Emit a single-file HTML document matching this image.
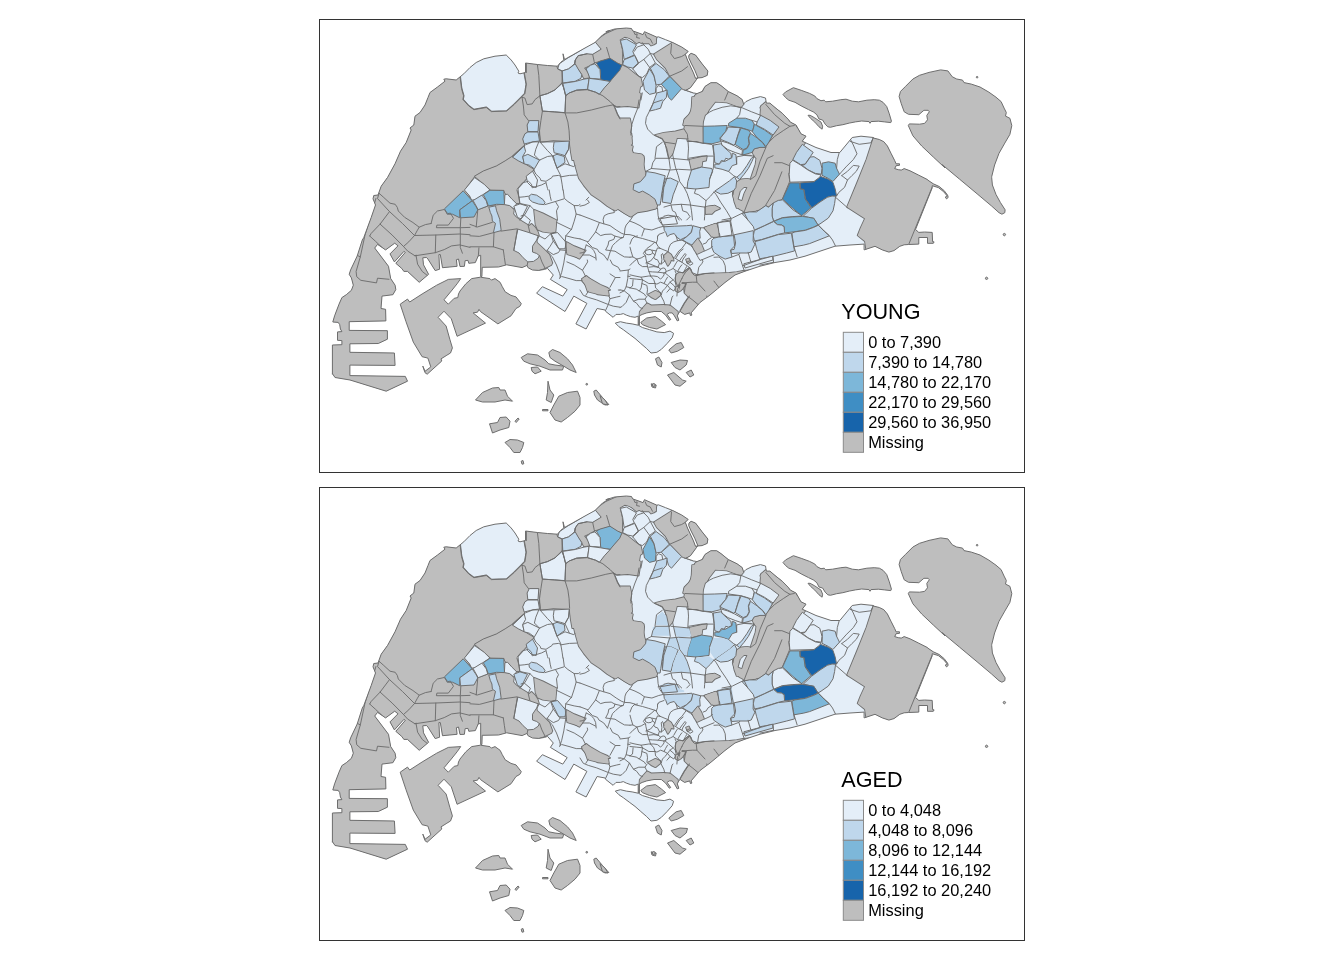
<!DOCTYPE html>
<html><head><meta charset="utf-8"><title>Singapore choropleth</title>
<style>
html,body{margin:0;padding:0;background:#fff;}
body{width:1344px;height:960px;overflow:hidden;position:relative;font-family:"Liberation Sans",sans-serif;}
svg{position:absolute;left:0;top:0;}
text{font-family:"Liberation Sans",sans-serif;fill:#000;}
</style></head><body>
<svg width="1344" height="960" viewBox="0 0 1344 960">
<defs>

<path id="isl" d="M386.2 391.2 L370.0 386.2 L350.0 380.0 L335.0 377.5 L332.5 373.8 L332.4 374.2 L332.4 345.0 L341.9 344.7 L341.9 340.6 L337.5 340.3 L337.5 331.9 L341.9 331.6 L340.4 329.0 L339.7 324.6 L338.2 322.4 L332.8 322.0 L334.6 315.8 L339.0 304.2 L341.9 297.6 L346.3 294.7 L351.4 290.3 L353.3 285.2 L351.4 277.9 L349.2 274.3 L350.6 269.9 L357.2 256.0 L362.3 240.0 L363.8 237.5 L371.2 217.5 L375.5 205.0 L373.0 198.8 L373.8 195.5 L378.0 195.0 L381.2 186.2 L387.5 177.5 L395.0 163.8 L400.5 151.2 L406.2 142.5 L411.2 130.0 L410.0 128.0 L413.8 125.0 L415.0 116.2 L420.0 112.5 L425.0 105.0 L428.0 97.5 L430.0 92.5 L437.5 87.0 L445.0 81.2 L443.8 79.2 L446.2 78.8 L456.2 80.0 L463.8 73.8 L470.0 67.5 L476.2 62.5 L483.8 58.8 L495.0 56.2 L506.2 55.0 L511.2 60.0 L515.0 65.0 L518.8 71.2 L518.0 73.0 L520.0 73.8 L525.5 72.5 L525.5 63.0 L537.5 64.5 L547.5 65.5 L557.5 66.2 L560.5 62.5 L563.8 60.0 L563.0 53.8 L564.5 59.5 L572.5 55.0 L585.0 48.0 L595.0 42.5 L602.5 35.0 L610.0 30.5 L605.8 31.7 L614.6 29.0 L626.3 28.0 L631.4 28.5 L632.8 30.9 L643.0 34.6 L644.5 31.7 L656.9 37.2 L658.3 36.8 L665.6 39.7 L672.9 42.6 L681.7 47.0 L688.2 51.4 L685.3 54.3 L687.5 60.1 L693.3 72.5 L695.5 78.3 L698.0 78.0 L694.8 70.3 L691.1 63.0 L688.7 57.6 L689.0 55.0 L691.1 53.3 L695.5 55.0 L702.1 63.8 L707.9 71.0 L707.2 75.4 L702.1 77.6 L697.4 78.0 L696.3 79.8 L690.4 87.8 L686.0 90.3 L693.3 92.9 L697.0 93.6 L702.1 91.5 L705.0 86.4 L710.8 82.7 L716.7 82.7 L721.0 85.6 L728.3 91.5 L737.1 95.8 L742.2 99.5 L743.6 103.9 L745.8 101.7 L751.7 98.8 L760.4 96.6 L765.5 98.0 L766.3 103.1 L769.9 103.1 L775.0 107.5 L782.3 113.3 L788.1 119.2 L790.3 122.1 L796.0 125.0 L801.0 133.8 L806.0 136.2 L802.2 141.2 L816.0 147.5 L831.0 152.5 L839.8 152.5 L846.0 145.0 L852.2 137.5 L861.0 136.2 L873.5 137.5 L873.3 138.0 L879.4 139.5 L883.8 141.7 L887.4 146.0 L891.0 153.3 L894.7 160.6 L896.1 163.8 L899.5 163.8 L899.5 165.3 L896.1 165.7 L894.7 168.6 L898.3 169.7 L901.3 170.1 L904.2 168.6 L910.0 170.8 L918.8 175.2 L927.5 179.6 L927.5 179.9 L933.3 183.8 L939.2 186.5 L944.3 190.8 L947.6 195.2 L948.2 197.4 L946.5 198.9 L945.3 197.0 L947.2 195.9 L943.5 191.6 L938.4 187.6 L932.2 185.7 L932.2 187.9 L915.5 229.5 L918.8 232.4 L924.6 232.0 L932.2 232.4 L932.6 241.6 L934.1 241.9 L933.3 243.3 L927.5 243.3 L927.5 237.5 L918.8 237.5 L918.8 244.1 L908.5 244.5 L904.2 244.8 L899.8 246.3 L894.0 250.6 L888.9 252.1 L882.3 249.9 L875.0 246.3 L864.1 249.9 L864.1 244.1 L850.0 245.0 L835.0 246.2 L820.0 251.2 L805.0 256.2 L790.0 260.0 L775.0 262.5 L760.0 266.2 L745.0 271.2 L735.0 275.0 L725.0 282.5 L717.5 288.8 L710.0 295.0 L700.0 302.5 L691.1 312.9 L691.9 315.1 L690.4 315.5 L689.7 312.9 L684.6 314.4 L680.2 311.5 L678.8 312.9 L677.3 315.8 L678.8 320.2 L677.3 320.9 L674.4 315.8 L672.2 312.9 L669.3 312.9 L667.1 314.4 L670.7 319.5 L669.3 320.2 L665.6 315.1 L661.3 311.5 L654.0 311.5 L646.7 312.9 L642.3 314.4 L639.4 315.8 L639.4 325.3 L638.2 325.3 L638.2 316.1 L635.0 317.3 L630.6 316.6 L626.3 315.1 L623.3 313.6 L620.4 314.4 L616.0 314.4 L613.1 317.3 L605.8 311.5 L605.1 310.0 L597.1 308.5 L586.1 329.0 L575.9 323.9 L586.9 303.4 L573.8 296.1 L565.0 311.5 L536.6 293.2 L542.4 286.7 L562.8 296.1 L567.2 289.6 L550.4 279.4 L553.3 275.0 L547.5 268.4 L544.6 269.4 L538.8 270.4 L532.5 270.0 L528.3 267.9 L526.8 265.5 L522.1 267.6 L506.7 264.8 L498.6 267.0 L482.2 267.3 L481.9 276.5 L480.7 276.5 L480.7 255.3 L478.2 256.0 L475.3 262.6 L468.8 263.3 L468.0 260.4 L465.1 260.7 L464.4 266.3 L460.0 266.5 L458.5 259.0 L456.4 259.7 L457.1 266.3 L442.5 267.7 L440.3 254.6 L438.9 254.6 L439.6 269.2 L435.2 270.6 L427.9 259.0 L426.5 257.5 L422.8 257.8 L423.5 264.8 L428.6 274.3 L419.2 282.3 L407.5 271.4 L403.9 271.4 L401.7 268.4 L395.8 263.3 L405.3 252.4 L403.9 251.4 L394.4 261.9 L390.0 253.9 L398.0 245.8 L394.7 243.2 L385.6 249.9 L377.6 244.4 L374.7 248.0 L388.5 266.3 L390.7 278.6 L395.1 285.2 L395.8 289.6 L392.9 294.7 L382.0 296.1 L381.0 308.5 L385.6 309.3 L385.9 320.9 L349.2 321.7 L349.2 330.4 L387.4 330.7 L387.4 339.2 L378.3 343.5 L349.9 343.8 L349.9 352.3 L394.4 353.0 L395.1 365.4 L349.9 365.1 L349.9 375.6 L405.3 376.4 L407.5 381.2Z"/>
<clipPath id="cl"><use href="#isl"/></clipPath>
<g id="greys" fill="#bebebe">
<path d="M460.0 76.1 L461.5 88.5 L463.6 95.8 L462.9 99.5 L468.8 106.0 L473.9 109.7 L486.3 107.5 L491.4 111.6 L506.7 111.1 L514.0 104.6 L521.3 97.3 L524.9 93.6 L526.4 84.2 L524.2 72.2 L524.2 56.5 L562.1 56.5 L562.1 82.7 L554.8 90.0 L547.5 93.6 L539.9 95.8 L542.4 111.1 L565.0 112.6 L565.7 95.8 L569.4 92.9 L576.7 90.3 L587.6 89.7 L595.6 92.2 L602.9 95.8 L610.2 101.7 L613.1 104.6 L614.6 107.5 L617.5 114.8 L621.9 122.1 L626.3 129.4 L631.4 133.8 L632.1 144.0 L629.9 145.4 L633.5 154.2 L631.4 155.6 L632.8 160.0 L572.3 160.0 L570.8 151.3 L569.7 141.0 L553.3 140.3 L540.9 141.8 L539.5 130.8 L538.8 120.6 L529.3 120.6 L527.1 125.0 L527.8 131.6 L524.9 133.8 L522.7 138.9 L524.2 144.0 L524.2 145.5 L518.3 150.6 L511.8 156.5 L505.2 160.8 L496.5 165.9 L483.3 171.0 L474.6 176.1 L464.4 190.0 L22.5 251.3 L22.5 76.2Z"/>
<path d="M594.9 41.6 L605.8 33.9 L617.5 28.8 L629.2 25.8 L656.0 28.8 L656.0 43.3 L641.6 43.3 L639.4 41.9 L627.7 37.5 L624.8 36.8 L619.7 39.7 L621.9 49.2 L622.2 64.5 L617.5 63.0 L609.9 58.2 L600.0 61.1 L594.9 62.3 L589.8 65.2 L584.0 68.1 L588.3 73.2 L589.1 77.6 L584.0 78.3 L581.8 74.0 L578.1 68.9 L575.2 63.8 L576.7 56.5 L586.9 53.8 L592.7 54.6 L601.2 49.2Z"/>
<path d="M621.9 65.2 L627.7 68.1 L635.0 74.0 L640.8 78.3 L642.3 85.6 L640.1 87.1 L639.1 92.9 L640.8 93.6 L638.6 107.5 L627.7 106.0 L616.8 106.8 L613.1 104.6 L610.2 101.7 L602.9 95.8 L599.3 94.4 L604.4 87.8 L610.2 81.5 L614.6 76.1 L619.7 70.3Z"/>
<path d="M474.6 176.1 L483.3 171.0 L496.5 165.9 L505.2 160.8 L511.8 156.5 L524.2 163.8 L533.6 169.6 L528.5 176.1 L522.7 182.7 L517.6 188.5 L518.3 195.8 L519.1 202.4 L516.1 209.0 L513.2 203.1 L505.2 192.9 L503.8 190.0 L490.6 189.7 L484.1 184.2Z"/>
<path d="M22.5 178.3 L460.0 178.3 L468.8 195.8 L473.9 207.5 L478.2 210.1 L488.4 206.3 L495.0 205.3 L495.5 205.6 L504.4 204.6 L509.6 205.6 L513.8 209.8 L513.2 214.0 L515.8 217.1 L520.0 220.2 L529.4 225.9 L531.5 223.9 L535.1 227.5 L537.7 231.7 L538.8 235.3 L536.7 240.0 L536.7 242.6 L542.9 248.3 L549.2 254.6 L552.3 262.9 L551.2 265.0 L545.0 268.1 L525.0 275.0 L525.0 502.5 L22.5 557.5Z"/>
<path d="M568.6 118.5 L569.4 131.7 L570.8 146.3 L575.2 165.2 L578.9 178.3 L584.0 185.6 L591.3 194.4 L600.0 200.2 L607.3 206.0 L614.6 210.4 L618.2 209.0 L624.8 213.3 L629.9 216.3 L639.4 210.4 L649.6 206.0 L656.0 205.3 L656.0 199.5 L649.6 192.9 L642.3 191.5 L636.5 192.9 L632.8 187.1 L634.3 181.3 L642.3 179.8 L640.8 176.9 L645.9 173.2 L643.5 168.9 L643.8 156.5 L641.6 154.3 L631.4 152.8 L632.8 146.3 L629.2 144.8 L631.4 140.4 L629.9 134.6 L631.4 125.8 L629.9 118.5Z"/>
<path d="M534.1 209.8 L542.9 213.4 L556.5 220.2 L555.4 232.2 L550.2 232.7 L542.9 231.7 L537.7 229.6 L535.6 224.4Z"/>
<path d="M566.4 242.1 L574.2 246.2 L583.5 249.9 L585.6 250.4 L579.4 258.8 L573.1 255.1 L566.9 252.5Z"/>
<path d="M582.0 280.6 L585.6 276.5 L592.9 280.6 L600.2 284.8 L607.5 287.9 L610.0 290.0 L589.8 290.0Z"/>
<path d="M617.1 121.9 L624.4 123.3 L628.0 129.2 L631.7 136.5 L630.2 137.9 L630.9 146.7 L629.5 150.3 L632.4 154.0 L640.4 154.7 L644.1 158.3 L643.3 164.2 L644.8 171.5 L645.5 175.8 L640.4 181.7 L633.9 183.9 L633.1 189.7 L639.0 192.6 L642.6 191.1 L649.2 194.8 L655.0 199.2 L657.2 205.0 L655.7 208.6 L647.0 210.8 L637.5 212.3 L630.9 216.7 L624.8 213.3 L617.1 207.9Z"/>
<path d="M684.2 120.4 L688.5 116.0 L691.5 110.2 L692.2 97.1 L713.3 97.1 L709.0 108.8 L707.5 113.1 L702.4 116.8 L702.8 125.5 L703.1 143.0 L695.8 140.8 L687.8 138.6 L676.9 137.9 L675.4 143.8 L672.5 154.0 L668.9 158.3 L665.2 142.3 L662.3 138.6 L655.0 135.0 L663.8 132.8 L675.4 131.4 L684.2 129.2 L684.9 125.5Z"/>
<path d="M689.3 159.8 L701.7 156.9 L706.8 156.1 L706.0 160.5 L702.4 161.3 L701.7 166.4 L691.5 169.3Z"/>
<path d="M760.7 115.3 L763.6 104.4 L770.2 104.4 L780.4 113.1 L789.9 121.9 L794.3 125.5 L799.4 129.2 L797.2 135.7 L805.2 135.7 L806.7 140.8 L803.8 144.5 L799.4 149.6 L795.0 155.4 L792.1 160.5 L789.2 165.6 L789.2 172.9 L781.9 171.5 L774.6 162.7 L773.1 155.4 L768.8 151.0 L765.8 147.4 L768.8 142.3 L772.8 135.7 L779.0 127.0 L770.2 120.4Z"/>
<path d="M754.2 149.3 L760.0 147.7 L765.8 147.7 L768.8 151.3 L773.1 155.7 L774.6 163.0 L781.9 171.8 L777.5 181.7 L773.1 193.3 L768.8 206.5 L765.8 205.0 L760.0 209.4 L751.3 211.6 L744.0 212.3 L742.5 208.6 L736.7 207.9 L734.5 202.1 L733.0 194.8 L735.2 186.0 L737.4 181.7 L741.0 179.5 L746.9 178.8 L750.5 179.5 L752.7 172.9 L755.6 164.2 L756.4 158.3 L754.2 156.1 L752.7 152.5Z"/>
<path d="M705.3 207.2 L714.8 205.7 L719.9 208.6 L714.8 210.8 L711.9 213.8 L705.8 213.0Z"/>
<path d="M704.6 227.6 L714.8 224.0 L717.0 228.3 L720.6 236.4 L713.3 237.1 L707.5 231.3Z"/>
<path d="M768.8 145.0 L774.6 134.8 L781.9 129.0 L793.5 125.3 L798.6 130.4 L800.8 133.3 L809.6 136.3 L807.4 139.2 L802.3 143.5 L796.5 152.3 L792.8 159.6 L790.6 161.8 L789.2 165.4 L788.4 174.2 L789.2 181.5 L781.9 199.0 L768.8 206.3 L765.8 204.8 L760.0 205.5 L757.1 158.1Z"/>
<path d="M875.5 131.9 L866.5 159.6 L857.1 182.9 L847.1 207.0 L865.0 218.6 L860.6 228.1 L857.7 235.4 L865.0 241.3 L867.2 255.8 L949.6 255.8 L949.6 168.3 L905.8 131.9Z"/>
<path d="M654.0 54.3 L671.5 43.3 L672.9 40.4 L681.7 43.3 L690.4 49.2 L685.3 54.3 L687.5 60.1 L693.3 72.5 L696.3 78.3 L697.0 79.8 L690.4 87.8 L685.3 90.0 L681.7 88.5 L670.0 76.1 L665.6 68.1 L656.9 59.4Z"/>
<path d="M687.5 55.0 L691.1 53.3 L695.5 55.0 L702.1 63.8 L707.9 71.0 L708.6 76.1 L702.1 78.3 L696.3 78.3 L693.3 70.3 L689.7 63.0 L687.2 57.9Z"/>
<path d="M626.3 25.8 L631.4 25.8 L632.8 30.9 L643.0 34.6 L640.8 41.1 L636.5 43.3 L631.4 39.0 L624.8 34.6Z"/>
<path d="M643.0 34.6 L644.5 30.2 L656.9 36.0 L654.7 44.1 L651.0 45.5 L648.1 41.9 L641.6 41.9Z"/>
<path d="M761.1 106.0 L766.3 101.7 L769.9 101.7 L775.0 106.0 L782.3 111.9 L788.1 117.7 L792.5 122.8 L785.2 127.9 L779.4 130.8 L773.5 125.0 L766.3 119.2 L760.4 114.8Z"/>
<path d="M702.8 91.5 L705.0 86.4 L710.8 82.7 L716.7 82.7 L721.0 85.6 L728.3 91.5 L737.1 95.8 L742.2 99.5 L743.6 103.9 L740.7 107.5 L726.9 102.4 L715.2 101.7 L710.8 107.5 L705.0 114.8 L702.1 125.0 L702.8 141.0 L687.5 141.0 L686.0 126.5 L683.1 125.0 L684.6 119.2 L690.4 113.3 L692.6 104.6 L694.8 95.8 L699.2 92.2Z"/>
<path d="M760.4 107.5 L766.3 103.1 L769.9 103.1 L775.0 107.5 L782.3 113.3 L788.1 119.2 L790.3 122.1 L796.0 125.0 L796.0 130.8 L785.2 127.9 L779.4 130.8 L773.5 126.5 L766.3 119.2 L761.9 113.3Z"/>
<path d="M589.2 188.5 L596.5 195.8 L603.8 200.9 L610.3 206.0 L615.4 210.4 L618.3 208.2 L624.2 211.9 L631.5 216.3 L634.4 211.9 L640.2 209.7 L647.5 209.0 L656.3 208.2 L657.7 203.1 L653.3 197.3 L647.5 192.9 L643.1 188.5Z"/>
<path d="M733.5 188.5 L756.0 188.5 L756.0 210.4 L745.2 211.9 L739.4 209.0 L735.0 201.7 L732.8 194.4Z"/>
<path d="M705.8 206.8 L714.6 205.8 L719.7 208.2 L714.6 210.4 L711.7 213.3 L705.8 214.1Z"/>
<path d="M566.6 242.5 L574.6 247.6 L583.3 250.5 L579.0 257.8 L567.3 254.2Z"/>
<path d="M581.9 279.0 L586.3 276.0 L595.0 283.3 L603.8 287.7 L608.1 290.6 L608.9 295.7 L597.9 294.3 L595.7 293.5 L587.7 291.4 L584.8 283.3Z"/>
<path d="M676.2 274.7 L679.4 272.6 L683.5 273.1 L686.7 270.0 L689.3 268.4 L691.9 273.1 L697.1 275.2 L703.3 274.2 L711.7 273.6 L719.0 273.3 L729.4 272.9 L736.7 272.1 L742.9 271.0 L755.4 270.0 L755.4 345.0 L676.2 345.0 L680.4 310.6 L684.6 303.3 L688.8 297.1 L684.6 292.9 L684.1 288.8 L686.7 283.5 L682.5 282.0 L680.9 285.1 L679.4 284.1 L676.8 286.7 L675.7 282.5Z"/>
<path d="M680.4 284.1 L683.5 283.8 L685.1 284.6 L682.5 288.8 L680.4 290.8 L678.3 291.9 L679.9 287.7Z"/>
<path d="M675.7 287.2 L678.3 286.7 L679.4 288.8 L677.8 291.9 L675.7 290.8Z"/>
<path d="M642.4 308.5 L647.1 303.3 L651.2 305.4 L663.8 304.9 L670.0 305.4 L675.2 309.6 L677.8 311.7 L678.3 324.2 L638.8 324.2 L639.8 311.7Z"/>
<path d="M648.1 294.5 L655.4 290.8 L660.1 292.9 L660.6 295.0 L655.4 299.2 L651.2 297.1Z"/>
<path d="M663.8 255.9 L667.9 252.3 L671.0 254.4 L673.1 258.5 L673.6 260.6 L671.0 260.1 L670.0 262.7 L667.9 265.8 L665.8 261.7 L664.3 259.6Z"/>
<path d="M691.9 245.0 L697.6 238.2 L701.2 244.0 L703.9 250.7 L697.1 253.9 L694.0 249.2Z"/>
<path d="M704.4 227.8 L716.4 223.6 L719.5 233.5 L711.7 236.7 L708.5 232.5Z"/>
<path d="M686.1 259.6 L688.8 258.5 L690.3 261.7 L687.7 263.2Z"/>
</g>
<path id="z0" d="M464.4 190.0 L474.6 177.6 L484.1 184.2 L489.9 190.0 L483.3 194.4 L476.0 199.5 L471.7 200.2 L469.5 195.8Z"/>
<path id="z1" d="M444.5 208.8 L463.2 190.8 L472.2 200.8 L459.8 209.8 L459.8 217.8 L452.5 214.2 L447.2 214.2Z"/>
<path id="z2" d="M459.8 209.8 L472.2 200.8 L475.8 206.2 L477.8 209.8 L474.0 217.0 L460.5 217.8Z"/>
<path id="z3" d="M473.1 200.5 L481.9 195.1 L486.3 200.9 L487.7 206.0 L478.2 209.7Z"/>
<path id="z4" d="M483.3 194.7 L489.9 190.3 L503.8 190.4 L504.5 204.6 L496.5 204.3 L488.4 206.0 L486.3 200.2Z"/>
<path id="z5" d="M504.9 194.7 L507.5 194.2 L511.7 198.9 L516.4 203.5 L514.3 209.3 L509.6 205.6 L504.4 204.6Z"/>
<path id="z6" d="M488.8 207.2 L495.5 205.8 L496.6 210.8 L499.7 219.2 L501.2 230.6 L493.4 232.7 L495.5 223.3 L492.4 221.2 L491.9 216.0 L490.3 212.4Z"/>
<path id="z7" d="M528.9 196.2 L531.5 194.2 L536.7 195.2 L542.9 199.4 L545.0 202.5 L544.0 204.6 L538.8 204.1 L532.5 202.0 L529.4 199.4Z"/>
<path id="z8" d="M529.3 120.6 L538.8 120.6 L538.0 131.6 L527.8 131.6 L527.1 125.0Z"/>
<path id="z9" d="M527.8 132.0 L538.0 132.0 L539.5 141.0 L532.9 141.8 L524.2 144.0 L522.7 138.9 L524.9 133.8Z"/>
<path id="z10" d="M539.9 95.8 L547.5 93.6 L554.8 90.0 L562.1 83.4 L564.3 90.0 L565.7 95.8 L565.0 112.6 L554.8 111.9 L542.4 111.1Z"/>
<path id="z11" d="M557.7 68.9 L559.2 63.8 L567.9 57.9 L576.7 52.8 L586.9 46.3 L594.9 41.6 L601.2 49.2 L592.7 54.3 L586.9 53.8 L578.1 55.7 L575.2 60.1 L574.5 63.8 L568.6 68.9 L562.1 71.0Z"/>
<path id="z12" d="M596.4 63.0 L600.0 61.1 L609.9 58.2 L617.5 63.0 L621.9 65.2 L619.7 70.3 L614.6 76.1 L610.2 81.3 L600.7 80.1 L600.0 69.6Z"/>
<path id="z13" d="M586.1 68.9 L590.5 65.2 L594.9 63.8 L600.0 69.6 L600.7 79.1 L589.8 78.3 L588.3 74.0Z"/>
<path id="z14" d="M562.1 71.0 L568.6 68.9 L575.2 63.8 L578.1 68.9 L581.8 74.7 L581.0 78.3 L575.2 81.3 L562.8 83.0Z"/>
<path id="z15" d="M562.8 83.4 L575.2 81.5 L584.0 79.1 L589.1 78.3 L587.6 89.3 L576.7 90.0 L569.4 92.9 L565.7 95.5 L564.3 90.0Z"/>
<path id="z16" d="M589.1 78.3 L600.7 79.8 L610.2 81.5 L604.4 87.8 L599.3 94.4 L595.6 92.2 L587.6 89.7Z"/>
<path id="z17" d="M620.4 40.4 L626.3 39.0 L636.5 44.8 L632.8 51.4 L634.3 55.0 L624.1 59.4 L622.6 49.2Z"/>
<path id="z18" d="M624.1 59.7 L634.7 55.4 L638.2 63.0 L632.8 68.1 L627.7 67.0 L622.6 64.5Z"/>
<path id="z19" d="M512.5 157.2 L524.2 146.0 L525.6 151.4 L522.7 156.5 L524.2 163.8 L518.3 160.8Z"/>
<path id="z20" d="M522.7 156.5 L527.8 154.3 L539.5 160.1 L534.4 168.9 L529.3 165.2 L524.2 163.8Z"/>
<path id="z21" d="M554.1 141.9 L569.4 141.1 L568.6 149.2 L565.0 155.7 L560.6 154.3 L554.1 152.8 L553.3 147.7Z"/>
<path id="z22" d="M553.3 155.7 L557.0 154.3 L564.3 156.5 L565.0 162.3 L557.0 168.1 L554.8 162.3Z"/>
<path id="z23" d="M633.9 183.9 L640.4 181.7 L645.5 175.8 L646.3 171.5 L655.0 172.9 L665.2 175.8 L663.8 181.7 L662.3 190.4 L660.8 200.6 L660.1 205.0 L657.2 205.0 L655.0 199.2 L649.2 194.8 L642.6 191.1 L639.0 192.6 L633.1 189.7Z"/>
<path id="z24" d="M665.2 178.8 L670.3 178.0 L678.3 181.7 L676.1 187.5 L673.2 194.8 L671.0 203.5 L662.3 202.1 L662.3 193.3 L663.8 184.6Z"/>
<path id="z25" d="M691.5 170.0 L701.7 167.1 L711.9 168.5 L712.6 171.5 L709.7 178.8 L709.0 187.5 L695.8 189.0 L687.1 188.2 L687.8 181.7Z"/>
<path id="z26" d="M712.6 145.2 L720.6 143.8 L725.0 148.1 L730.8 153.2 L731.6 157.6 L728.6 159.1 L725.7 158.3 L724.3 161.3 L721.4 160.5 L719.2 164.2 L714.8 162.7 L714.1 155.4Z"/>
<path id="z27" d="M714.8 164.2 L719.2 164.2 L722.1 161.3 L725.0 161.3 L728.6 159.5 L732.0 157.6 L732.3 153.2 L735.9 154.7 L736.7 164.2 L732.3 165.6 L728.6 171.5 L722.1 169.3 L714.8 167.8Z"/>
<path id="z28" d="M736.7 177.3 L741.8 172.9 L746.9 165.6 L751.3 158.3 L754.2 156.1 L752.0 161.3 L748.3 168.5 L744.0 174.4 L739.6 179.5Z"/>
<path id="z29" d="M714.8 191.1 L722.1 186.0 L729.4 180.9 L734.5 176.6 L736.7 180.9 L735.9 187.5 L733.8 190.4 L727.9 193.3 L720.6 194.1Z"/>
<path id="z30" d="M703.1 126.3 L714.8 126.0 L727.2 125.5 L725.7 131.4 L722.1 135.7 L719.9 137.9 L720.6 141.6 L711.9 143.8 L703.1 143.0Z"/>
<path id="z31" d="M720.6 137.9 L722.8 135.0 L726.5 130.6 L727.9 127.0 L740.3 127.7 L738.1 134.3 L735.2 143.8 L733.8 145.2 L727.9 142.3 L720.6 139.4Z"/>
<path id="z32" d="M728.6 123.3 L736.7 118.2 L745.4 118.2 L752.0 120.4 L754.2 124.1 L752.7 131.4 L748.3 129.9 L741.0 127.7 L728.6 126.0Z"/>
<path id="z33" d="M741.0 128.0 L748.3 130.2 L750.5 132.8 L748.3 137.9 L749.1 143.8 L746.9 148.1 L743.2 149.6 L735.2 144.5 L738.1 135.0Z"/>
<path id="z34" d="M750.5 133.3 L757.1 137.9 L762.9 143.0 L765.8 147.4 L760.0 147.4 L754.2 148.9 L752.0 152.5 L742.5 155.1 L743.2 150.3 L747.2 148.4 L749.5 143.8 L748.6 138.2Z"/>
<path id="z35" d="M754.5 124.1 L756.4 125.5 L764.4 129.9 L772.4 135.7 L768.8 142.3 L765.8 146.7 L762.9 142.6 L757.1 137.6 L752.4 131.8Z"/>
<path id="z36" d="M757.1 121.9 L760.7 115.3 L770.2 120.4 L779.0 127.0 L773.1 135.0 L764.4 129.2 L756.4 125.1Z"/>
<path id="z37" d="M720.6 140.8 L727.9 143.0 L734.5 145.9 L742.5 150.3 L741.8 154.7 L735.2 152.5 L727.9 149.6 L722.1 145.2Z"/>
<path id="z38" d="M738.1 199.2 L740.3 191.1 L744.0 187.5 L746.9 187.5 L744.0 193.3 L741.8 200.6Z"/>
<path id="z39" d="M782.6 199.0 L789.9 182.9 L799.7 182.9 L800.1 188.8 L803.8 189.5 L805.2 199.0 L811.0 207.7 L801.6 215.7 L792.1 207.7Z"/>
<path id="z40" d="M800.1 182.9 L814.0 181.8 L820.5 176.4 L828.5 179.3 L832.9 182.2 L835.1 188.8 L836.6 196.0 L828.5 196.8 L821.3 201.1 L811.8 207.7 L805.5 199.0 L804.0 189.5 L800.4 188.8Z"/>
<path id="z41" d="M803.3 216.0 L811.7 208.2 L820.0 202.0 L827.3 197.3 L832.0 196.0 L835.6 196.2 L834.6 203.5 L833.0 210.8 L828.3 218.1 L820.0 223.9 L817.9 224.9 L813.8 218.3 L808.5 217.3Z"/>
<path id="z42" d="M773.1 203.0 L778.3 200.4 L782.5 199.9 L792.9 209.8 L802.3 216.0 L792.9 216.6 L782.5 217.6 L773.6 221.2 L772.1 216.0 L772.1 208.8Z"/>
<path id="z43" d="M774.2 221.2 L782.5 217.9 L792.9 216.9 L802.3 216.4 L808.5 217.3 L813.8 218.3 L817.9 224.9 L813.8 227.0 L805.4 230.1 L795.0 231.7 L784.6 232.9 L784.1 226.5 L781.5 224.9 L777.3 224.4Z"/>
<path id="z44" d="M791.9 233.2 L795.0 231.9 L805.4 230.4 L813.8 227.3 L818.4 225.2 L824.2 231.1 L829.4 235.8 L820.0 239.5 L809.6 243.6 L803.3 245.2 L794.0 246.8 L792.9 240.0Z"/>
<path id="z45" d="M754.4 230.4 L764.8 225.6 L773.6 221.5 L777.3 224.6 L781.5 225.1 L784.1 226.7 L784.6 232.9 L778.3 234.3 L770.0 236.9 L761.7 239.5 L754.4 241.0 L753.3 235.8Z"/>
<path id="z46" d="M754.9 241.6 L761.7 239.8 L770.0 237.2 L778.3 234.6 L791.4 233.2 L792.9 242.1 L794.5 250.9 L786.7 253.0 L774.2 256.1 L765.8 257.7 L759.6 258.8 L756.5 248.3Z"/>
<path id="z47" d="M792.8 159.6 L796.5 152.3 L802.3 144.3 L813.2 152.3 L810.3 156.7 L805.2 164.0 L800.8 164.7Z"/>
<path id="z48" d="M805.2 164.3 L810.3 157.0 L814.0 156.7 L819.8 160.3 L822.0 168.3 L821.3 174.2 L815.4 173.4 L808.1 169.8 L802.3 165.4Z"/>
<path id="z49" d="M789.9 163.2 L792.8 160.3 L800.8 165.1 L808.1 170.1 L815.4 173.9 L821.0 174.9 L819.8 177.1 L814.0 181.5 L789.9 182.2 L789.2 174.2Z"/>
<path id="z50" d="M822.0 163.2 L828.5 161.8 L835.1 163.2 L836.6 168.3 L839.5 174.2 L832.9 181.5 L828.5 178.5 L822.0 175.3 L822.4 168.3Z"/>
<path id="z51" d="M741.9 213.4 L749.2 211.9 L756.5 211.9 L765.8 205.6 L768.4 207.2 L773.1 203.0 L772.1 208.8 L772.1 216.0 L773.6 221.2 L764.8 225.4 L754.4 230.1 L753.3 226.5 L748.1 220.2Z"/>
<path id="z52" d="M649.6 68.9 L654.0 76.1 L656.1 84.9 L655.4 92.9 L649.6 94.4 L644.5 90.0 L643.0 81.3 L646.7 74.7Z"/>
<path id="z53" d="M663.8 226.8 L674.2 226.2 L686.7 225.7 L691.9 225.2 L692.9 228.3 L690.8 232.5 L686.7 236.7 L680.4 239.8 L676.8 237.2 L674.2 233.5 L670.0 234.6 L667.4 236.7 L665.8 232.5 L664.3 230.4Z"/>
<path id="z54" d="M692.9 225.7 L700.7 227.8 L699.7 231.5 L700.2 238.2 L697.6 238.2 L691.9 245.0 L686.7 242.4 L682.5 239.8 L686.7 236.7 L691.4 232.5Z"/>
<path id="z55" d="M711.7 240.3 L713.8 238.2 L720.0 236.7 L733.5 235.6 L734.6 246.0 L730.4 250.2 L732.0 257.0 L725.2 259.1 L720.0 256.5 L713.8 252.3 L711.7 247.1Z"/>
<path id="z56" d="M734.1 234.8 L744.0 232.7 L753.3 230.6 L753.3 235.8 L753.1 241.0 L754.9 244.2 L751.2 252.0 L748.1 253.0 L738.2 253.0 L731.5 253.5 L730.9 249.9 L734.1 249.4 L735.6 243.1Z"/>
<path id="z57" d="M650.3 68.1 L656.1 63.5 L664.2 69.6 L669.3 76.1 L661.3 84.2 L656.1 84.9 L654.0 75.4Z"/>
<path id="z58" d="M661.3 84.2 L670.0 76.6 L681.7 88.5 L671.5 100.2 L668.5 97.3 L666.4 90.0Z"/>
<path id="z59" d="M649.6 111.1 L652.5 104.6 L654.7 98.8 L656.9 92.9 L662.7 91.5 L667.1 90.0 L666.4 97.3 L662.7 101.7 L660.5 108.2 L655.4 109.7Z"/>
<path id="z60" d="M517.9 229.1 L529.4 232.7 L538.2 235.8 L536.7 240.0 L532.5 246.2 L532.5 252.0 L536.7 253.5 L539.3 255.6 L538.2 258.2 L533.5 261.4 L527.8 261.9 L523.1 257.7 L519.0 253.0 L513.8 250.4 L515.8 239.0Z"/>
<path id="z61" d="M655.7 156.9 L657.2 148.1 L662.3 143.8 L666.7 148.1 L668.9 157.6Z"/>
<path id="z62" d="M652.8 159.1 L668.9 158.3 L670.3 167.8 L651.4 167.8 L652.8 162.7Z"/>
<path id="z63" d="M673.2 159.1 L687.1 160.1 L689.3 160.5 L691.5 168.5 L678.3 169.3 L675.4 167.1Z"/>
<path id="z64" d="M668.1 170.7 L670.3 170.0 L678.3 169.7 L679.8 180.9 L678.3 181.7 L670.3 178.0 L666.7 178.8Z"/>
<path id="z65" d="M678.3 169.7 L691.5 170.3 L687.8 181.7 L687.1 188.2 L684.2 187.5 L679.8 181.7Z"/>
<path id="z66" d="M673.2 195.5 L676.1 187.5 L679.1 182.4 L684.2 188.2 L687.1 193.3 L690.0 202.1 L690.0 205.0 L681.3 204.3 L671.8 204.3Z"/>
<path id="z67" d="M712.6 170.0 L722.1 169.7 L728.6 171.8 L733.8 175.8 L729.4 180.9 L722.1 186.0 L714.8 191.1 L710.4 184.6 L709.7 178.8Z"/>
<path id="z68" d="M695.8 189.7 L709.0 188.2 L714.1 191.9 L710.4 196.3 L706.0 200.6 L698.8 194.8 L694.4 193.3Z"/>
<path id="z69" d="M659.4 217.4 L668.1 215.2 L676.9 216.7 L679.8 221.0 L684.2 222.5 L684.2 224.0 L663.8 225.4Z"/>
<path id="z70" d="M717.0 221.8 L731.6 218.9 L733.0 228.3 L733.8 234.2 L720.6 236.4Z"/>
<path id="z71" d="M526.2 176.2 L532.5 171.2 L537.5 180.0 L536.2 187.5 L531.2 186.2 L527.5 182.5Z"/>
<path id="z72" d="M513.8 206.2 L520.0 203.8 L527.5 206.2 L521.2 218.8 L517.5 217.5Z"/>
<path id="z73" d="M551.2 233.8 L557.5 232.5 L566.2 242.5 L565.0 248.8 L558.8 248.8Z"/>
<path id="z74" d="M660.0 218.8 L675.0 216.2 L677.5 223.8 L662.5 225.0Z"/>
<path id="z75" d="M717.5 222.5 L730.0 221.2 L732.0 235.0 L719.5 237.0Z"/>
<path id="z76" d="M743.8 263.8 L772.5 256.2 L773.0 260.0 L745.0 268.0Z"/>
<g id="lines" fill="none" stroke="#6e6e6e" stroke-width="0.95" stroke-linejoin="round" stroke-linecap="round">
<path d="M524.2 72.2 L526.4 84.2 L524.9 93.6 L521.3 97.3 L514.0 104.6 L506.7 111.1 L491.4 111.6 L486.3 107.5 L473.9 109.7 L468.8 106.0 L462.9 99.5 L463.6 95.8 L461.5 88.5 L460.0 76.1"/>
<path d="M526.4 62.3 L526.4 72.5"/>
<path d="M537.3 63.8 L538.8 75.4 L539.9 95.8 L542.4 111.1 L540.9 120.6 L539.5 130.8 L540.1 140.0"/>
<path d="M522.0 97.3 L524.9 98.0 L527.1 104.6 L532.2 103.9 L535.1 99.5 L539.9 95.8"/>
<path d="M522.0 97.3 L523.4 106.0 L524.2 114.8 L528.5 120.6"/>
<path d="M550.4 65.2 L556.3 64.5 L557.7 68.9 L562.1 71.0 L562.1 82.7 L554.8 90.0 L547.5 93.6 L539.9 95.8"/>
<path d="M562.1 82.7 L564.3 90.0 L565.7 95.8 L565.0 112.6 L567.9 122.1 L569.1 130.8 L569.6 140.0"/>
<path d="M542.4 111.1 L554.8 111.9 L565.0 112.9 L576.7 112.9 L591.3 110.0 L605.8 106.3 L613.1 104.9"/>
<path d="M565.7 95.8 L569.4 92.9 L576.7 90.3 L587.6 89.7 L595.6 92.2 L602.9 95.8 L610.2 101.7 L613.1 104.6 L614.6 107.5 L617.5 114.8 L620.0 119.0"/>
<path d="M592.7 54.6 L594.2 61.6 L594.9 63.8"/>
<path d="M606.6 47.4 L609.5 57.2 L609.9 58.2"/>
<path d="M586.9 53.8 L578.1 55.7 L575.2 60.1 L574.5 63.8"/>
<path d="M613.1 104.9 L616.8 106.8 L620.0 106.6"/>
<path d="M474.6 176.1 L483.3 171.0 L496.5 165.9 L505.2 160.8 L511.8 156.5 L518.3 150.6 L524.2 145.5"/>
<path d="M539.9 141.9 L547.5 150.6 L551.9 155.0 L554.8 162.3 L557.0 168.1 L560.6 175.4 L562.1 184.2 L562.9 190.0"/>
<path d="M533.6 169.6 L535.8 174.0 L540.2 178.3 L540.9 180.5 L546.0 181.3 L551.9 177.6 L552.6 176.1 L558.4 175.4 L560.6 176.1"/>
<path d="M517.6 188.5 L522.7 182.7 L528.5 181.3 L531.5 184.2 L532.2 187.8 L541.7 184.9 L546.0 182.7"/>
<path d="M546.0 182.7 L547.5 188.5 L548.0 190.0"/>
<path d="M560.6 176.9 L569.4 175.4 L576.7 175.1"/>
<path d="M557.0 168.1 L565.0 163.8 L569.4 165.2 L573.8 166.7 L575.2 165.2"/>
<path d="M569.4 141.1 L568.6 149.2 L565.0 155.7 L569.4 165.2"/>
<path d="M538.8 141.9 L535.8 149.2 L534.4 155.0 L539.5 160.1"/>
<path d="M525.6 144.8 L532.9 141.9 L539.9 141.9 L553.3 141.9"/>
<path d="M539.5 160.1 L547.5 156.5 L553.3 155.7"/>
<path d="M639.0 100.0 L637.5 108.8 L634.6 116.0 L631.7 124.8 L630.9 135.0"/>
<path d="M662.3 100.0 L653.5 102.9 L649.2 111.7 L646.3 117.5 L645.5 123.3 L647.7 129.2 L653.5 135.0 L662.3 138.6 L666.7 148.1 L668.9 158.3 L670.3 168.5 L666.7 178.8 L663.8 187.5 L662.5 200.0"/>
<path d="M668.9 158.3 L655.7 158.3 L652.8 162.7 L651.4 168.5 L645.5 171.5"/>
<path d="M651.4 168.5 L670.3 170.0 L678.3 169.3 L691.5 170.0"/>
<path d="M671.0 158.3 L687.1 159.8 L689.3 159.8"/>
<path d="M672.5 154.0 L675.4 167.1 L678.3 175.8 L679.8 181.7 L684.2 187.5 L687.1 193.3 L690.0 202.1 L691.5 210.8 L692.5 220.0"/>
<path d="M687.8 138.6 L688.5 148.1 L687.8 159.8"/>
<path d="M688.5 140.8 L701.7 143.0 L711.9 144.5"/>
<path d="M688.5 158.3 L701.7 156.1 L713.3 156.1"/>
<path d="M713.3 145.2 L714.1 155.4 L713.3 168.5 L709.7 178.8"/>
<path d="M655.0 158.3 L656.5 146.7 L662.3 142.3"/>
<path d="M687.1 188.2 L684.2 187.5"/>
<path d="M695.8 189.0 L694.4 193.3 L698.8 194.8 L706.0 200.6 L710.4 196.3 L714.1 191.9"/>
<path d="M706.0 200.6 L705.3 207.2 L704.6 216.7 L704.4 220.0"/>
<path d="M714.1 191.9 L716.3 194.8 L720.6 202.1 L726.5 210.8 L730.8 218.1 L731.2 220.0"/>
<path d="M733.8 190.4 L733.0 194.8"/>
<path d="M664.0 207.1 L671.0 205.0 L681.3 204.3 L690.0 205.0 L705.3 207.2"/>
<path d="M664.0 216.2 L668.1 215.2 L678.3 216.7 L681.7 220.0"/>
<path d="M722.0 220.0 L732.3 218.1 L741.0 213.8 L744.0 212.3"/>
<path d="M744.0 212.3 L747.8 220.0"/>
<path d="M736.7 164.2 L736.7 156.9 L744.0 155.4 L754.2 156.1"/>
<path d="M728.6 171.5 L733.8 175.8 L736.7 177.3"/>
<path d="M741.8 154.7 L751.3 155.4"/>
<path d="M703.1 126.3 L684.9 125.5"/>
<path d="M707.5 113.1 L713.3 110.2 L722.1 107.3 L730.8 105.8 L741.0 107.3 L751.3 111.7 L760.7 115.3"/>
<path d="M741.0 107.3 L739.6 114.6 L736.7 118.2"/>
<path d="M752.0 120.4 L757.1 121.9"/>
<path d="M765.8 147.7 L760.0 161.3 L755.6 175.8 L750.5 179.5"/>
<path d="M773.1 155.7 L767.3 158.3 L760.0 175.8 L751.3 193.3 L744.0 212.3"/>
<path d="M781.9 171.8 L774.6 190.4 L765.8 205.0"/>
<path d="M765.8 104.4 L774.6 114.6 L784.8 123.3 L789.9 126.3"/>
<path d="M768.8 142.3 L774.6 136.5 L783.3 130.6 L789.9 126.3 L794.3 125.5"/>
<path d="M789.2 165.6 L781.9 162.7 L774.6 162.7"/>
<path d="M671.0 205.0 L672.5 210.8 L675.4 212.3 L676.9 216.7 L679.1 220.0"/>
<path d="M681.3 204.3 L682.7 210.8 L687.1 212.3 L690.0 216.7 L686.7 220.0"/>
<path d="M684.2 129.2 L687.4 134.3 L687.8 138.6"/>
<path d="M665.2 142.3 L675.4 143.8"/>
<path d="M839.5 151.6 L837.3 159.6 L836.6 168.3"/>
<path d="M850.4 139.2 L853.3 145.0 L857.0 153.8 L853.3 159.6 L846.0 166.9 L839.5 174.2"/>
<path d="M841.7 175.6 L847.5 171.3 L853.3 165.4 L859.2 166.1 L856.3 171.3 L851.9 175.6 L847.5 180.0 L841.7 175.6"/>
<path d="M847.5 180.0 L844.6 187.3 L838.8 192.4 L836.6 196.0"/>
<path d="M835.8 197.5 L847.5 207.7"/>
<path d="M850.4 141.4 L859.2 144.3 L870.8 142.8 L873.0 138.4"/>
<path d="M932.1 187.3 L908.8 244.2"/>
<path d="M620.0 271.0 L628.3 270.0 L630.0 269.0"/>
<path d="M628.3 270.0 L627.8 278.3 L626.2 286.7 L624.2 290.8 L620.0 289.8"/>
<path d="M627.8 276.2 L630.0 276.5"/>
<path d="M626.2 286.7 L630.0 287.7"/>
<path d="M714.0 257.3 L719.0 257.0 L723.1 260.6 L725.2 265.8 L725.7 272.6"/>
<path d="M700.7 227.8 L704.4 227.8"/>
<path d="M716.4 223.6 L724.2 221.0 L730.4 220.0"/>
<path d="M719.5 233.5 L720.0 236.7"/>
<path d="M730.4 220.0 L733.5 235.6"/>
<path d="M732.0 257.0 L738.8 254.4 L739.8 253.3"/>
<path d="M738.8 254.4 L744.0 270.0"/>
<path d="M748.1 252.3 L750.2 259.6 L751.2 262.7 L760.0 259.6"/>
<path d="M742.9 265.8 L751.2 262.7"/>
<path d="M647.1 296.0 L645.0 299.2 L647.1 303.3"/>
<path d="M661.1 296.0 L663.8 301.2 L664.8 304.9"/>
<path d="M673.0 296.0 L672.1 297.1 L670.0 305.4"/>
<path d="M680.4 310.6 L684.6 303.3 L688.8 297.1"/>
<path d="M620.0 292.9 L624.2 290.8 L629.4 295.0 L630.0 295.9"/>
<path d="M630.0 296.0 L633.5 301.2 L636.7 303.3 L639.8 307.5 L642.4 308.5"/>
<path d="M629.4 295.0 L626.2 302.3 L622.1 306.5 L620.0 307.5"/>
<path d="M633.5 301.2 L638.8 299.2 L645.0 299.2"/>
<path d="M714.0 281.1 L715.8 283.5 L719.0 287.7"/>
<path d="M706.8 296.0 L707.0 297.1"/>
<path d="M689.3 296.0 L688.8 297.1 L692.9 300.2 L698.1 304.6"/>
<path d="M610.3 260.0 L612.5 264.4 L618.3 267.3 L619.8 270.2 L620.0 270.2"/>
<path d="M610.0 273.9 L615.4 277.5 L620.0 277.5"/>
<path d="M615.4 277.5 L610.0 287.3"/>
<path d="M818.4 225.2 L824.2 231.1 L829.4 235.8 L832.5 240.0 L835.6 246.2"/>
<path d="M794.0 246.8 L797.1 256.7"/>
<path d="M773.1 256.7 L773.6 262.9"/>
<path d="M760.0 265.1 L773.1 262.4"/>
<path d="M634.3 51.4 L637.2 47.0 L643.8 44.8 L648.1 49.2 L650.3 53.5 L643.8 59.4 L638.6 63.0 L635.0 55.7"/>
<path d="M643.8 59.4 L649.6 67.4 L655.4 63.0 L650.3 53.5"/>
<path d="M642.3 42.6 L643.8 44.8"/>
<path d="M654.0 54.3 L650.3 53.5"/>
<path d="M632.8 68.9 L638.6 63.5"/>
<path d="M649.6 67.4 L646.7 74.0 L642.3 77.6 L638.6 76.1 L632.8 68.9"/>
<path d="M642.3 92.9 L640.9 100.0"/>
<path d="M684.6 90.0 L693.3 92.9"/>
<path d="M671.5 44.1 L670.7 53.5 L674.4 58.6 L681.7 56.5 L685.3 54.3"/>
<path d="M687.5 66.7 L681.7 71.0 L670.0 76.1"/>
<path d="M728.3 91.5 L724.7 100.0"/>
<path d="M662.7 91.5 L662.0 87.1 L658.3 85.6 L656.1 88.5 L656.1 92.9"/>
<path d="M633.5 30.9 L635.0 34.6 L637.2 33.9 L636.5 37.5 L639.4 38.2"/>
<path d="M645.2 33.9 L646.7 37.5 L650.3 39.0 L652.5 43.3"/>
<path d="M516.4 203.5 L520.0 203.5 L529.9 205.6 L534.1 209.8"/>
<path d="M520.0 203.5 L519.0 197.3 L524.2 196.8 L528.3 196.2"/>
<path d="M516.9 190.0 L519.0 197.3"/>
<path d="M529.9 205.6 L525.2 214.0 L520.0 220.2"/>
<path d="M521.0 216.0 L524.2 215.0 L530.4 220.2 L528.3 225.4"/>
<path d="M545.0 204.6 L555.4 201.5 L563.8 198.9"/>
<path d="M563.2 190.0 L564.3 198.3 L567.9 201.5 L574.2 205.6 L576.2 214.0 L574.2 221.2 L571.6 229.1 L565.8 235.8 L565.3 240.0"/>
<path d="M555.4 201.5 L558.5 206.7 L556.5 210.8 L557.5 220.2"/>
<path d="M556.5 222.3 L571.6 229.6"/>
<path d="M576.2 214.0 L580.0 215.1"/>
<path d="M565.8 235.8 L574.2 237.9 L580.0 238.9"/>
<path d="M565.3 240.0 L565.8 250.4 L563.8 262.9 L561.7 272.3 L559.6 278.5"/>
<path d="M538.8 235.8 L545.0 239.0 L550.7 233.8 L555.4 232.2"/>
<path d="M550.7 233.8 L553.3 241.0 L550.2 246.2 L547.1 250.4"/>
<path d="M553.3 241.0 L558.5 248.3 L560.1 249.9 L565.8 250.4"/>
<path d="M547.1 250.4 L553.3 254.6 L558.5 252.5 L560.1 249.9"/>
<path d="M547.1 251.5 L552.3 256.7 L556.5 265.0 L559.6 273.3 L560.6 277.5"/>
<path d="M566.9 261.9 L574.2 265.0 L582.5 270.2 L585.6 276.5"/>
<path d="M582.5 270.2 L587.7 261.9 L587.3 260.0"/>
<path d="M561.7 276.5 L569.0 278.5 L576.2 280.6 L582.0 280.6"/>
<path d="M549.2 190.0 L550.2 196.2 L551.2 200.4"/>
<path d="M588.8 197.3 L586.0 200.0"/>
<path d="M580.0 204.5 L578.3 205.6 L574.2 205.6"/>
<path d="M494.0 232.7 L493.4 246.8"/>
<path d="M501.2 231.1 L517.4 228.8 L515.8 239.0 L513.8 250.4"/>
<path d="M503.3 249.9 L504.4 257.7 L505.4 264.5"/>
<path d="M527.8 262.1 L526.8 267.1"/>
<path d="M539.6 255.6 L541.9 261.9 L545.0 268.1"/>
<path d="M529.9 232.7 L528.3 225.9"/>
<path d="M470.0 224.4 L477.3 227.0 L492.4 222.3"/>
<path d="M477.8 209.8 L476.2 227.0"/>
<path d="M470.0 235.8 L479.4 236.4 L493.4 232.7"/>
<path d="M470.0 246.8 L493.4 246.8 L503.3 249.9"/>
<path d="M478.9 247.8 L478.3 256.7"/>
<path d="M379.1 193.3 L383.8 197.5 L390.0 203.2 L395.2 204.3 L397.3 207.4 L398.3 211.0 L404.6 217.3 L412.9 222.5 L419.2 227.2 L425.4 224.6 L431.1 223.5"/>
<path d="M379.1 193.3 L377.5 198.5 L389.5 211.6 L402.5 223.5 L414.5 235.5"/>
<path d="M419.2 227.2 L417.1 230.8 L414.5 235.5 L408.8 241.8 L403.5 246.5"/>
<path d="M389.5 211.6 L380.1 224.1 L371.2 233.4 L369.7 236.0"/>
<path d="M380.1 224.1 L392.1 235.0 L403.5 246.5 L407.7 251.1 L415.0 255.8 L416.0 255.3"/>
<path d="M369.7 236.0 L375.4 241.2 L384.8 250.1"/>
<path d="M375.9 198.5 L371.2 215.2 L365.0 235.0 L360.3 256.9 L356.1 271.5 L356.7 276.7 L360.8 280.3 L376.5 282.9 L377.5 278.2 L389.0 279.3"/>
<path d="M357.2 255.3 L360.3 256.9"/>
<path d="M414.5 235.5 L435.8 235.0 L459.8 234.0 L470.0 234.7"/>
<path d="M431.1 223.5 L433.2 215.2 L437.4 211.0 L444.2 209.5 L447.8 213.6 L450.4 213.1 L453.5 218.3 L448.3 225.1 L436.9 225.1 L436.4 227.7 L460.8 227.7 L470.0 227.4"/>
<path d="M460.8 218.3 L460.3 227.7 L460.3 247.5 L462.4 253.2"/>
<path d="M435.8 235.0 L435.3 252.7"/>
<path d="M415.0 255.8 L435.3 252.7 L444.2 249.6 L451.5 245.9 L459.8 244.9 L470.0 247.4"/>
<path d="M416.0 255.3 L417.6 264.2 L422.3 271.5 L427.5 275.6"/>
<path d="M630.0 244.1 L631.9 239.1 L634.4 236.6 L637.5 236.0"/>
<path d="M634.4 236.6 L642.5 238.5 L648.8 240.4 L654.7 242.2 L656.2 242.9"/>
<path d="M656.2 242.9 L657.5 239.8 L657.5 236.0"/>
<path d="M654.7 242.2 L651.2 245.4 L646.9 248.5 L644.4 251.6 L643.4 253.5 L645.6 256.0 L645.9 258.5 L646.9 262.9 L647.5 266.6"/>
<path d="M630.0 257.2 L632.8 256.9 L636.9 259.1 L641.2 257.9 L644.4 256.0 L645.6 256.0"/>
<path d="M636.9 259.1 L638.8 264.1 L642.5 266.6 L647.5 266.6"/>
<path d="M630.0 247.2 L631.2 251.6 L632.8 256.9"/>
<path d="M636.9 259.1 L633.1 262.2 L630.0 265.4"/>
<path d="M645.0 251.6 L646.9 250.1 L650.0 249.4 L652.2 250.7 L652.5 252.9 L651.2 254.4 L648.1 254.8 L645.6 253.8 L645.0 251.6"/>
<path d="M656.2 242.9 L658.1 246.6 L660.6 248.5 L665.0 250.4 L668.1 251.6"/>
<path d="M668.1 251.6 L668.8 247.9 L670.6 244.1 L673.8 241.9 L677.5 240.7 L681.9 240.1"/>
<path d="M677.5 240.7 L676.2 236.0"/>
<path d="M681.9 240.1 L686.2 242.6 L690.6 245.4 L692.5 247.2"/>
<path d="M673.1 257.2 L675.6 258.5 L679.4 261.0 L681.9 262.2 L684.4 264.1 L687.5 266.0 L690.0 267.9 L691.2 269.8"/>
<path d="M675.0 256.6 L678.8 251.0 L681.9 248.5 L685.0 244.1 L686.2 242.6"/>
<path d="M675.6 258.5 L680.0 251.6 L683.1 249.1"/>
<path d="M679.4 261.0 L682.5 256.6 L685.0 253.5 L686.2 254.8 L683.1 259.1 L681.9 262.2"/>
<path d="M686.6 262.2 L690.0 260.7 L693.1 263.5 L690.0 265.4 L686.6 262.2"/>
<path d="M673.1 268.5 L677.5 271.6 L683.1 272.9 L686.2 270.4 L688.1 267.9 L690.0 267.9"/>
<path d="M673.8 267.2 L676.2 262.9 L677.5 261.0"/>
<path d="M677.5 271.6 L680.0 267.2 L681.9 264.8"/>
<path d="M683.1 272.9 L685.6 268.5 L686.6 266.6"/>
<path d="M691.2 269.8 L692.5 273.5 L694.4 275.4 L697.5 275.4 L698.1 271.0 L698.8 267.2 L701.9 263.5 L703.1 261.0 L701.9 259.8"/>
<path d="M696.2 253.8 L698.1 257.2 L700.0 260.4 L701.9 259.8 L708.1 257.2 L714.0 254.8"/>
<path d="M703.1 244.1 L706.2 242.9 L708.1 239.8 L711.2 237.9"/>
<path d="M704.7 251.0 L710.0 248.5 L712.5 246.6"/>
<path d="M697.5 275.4 L705.0 273.5 L714.0 272.9"/>
<path d="M647.5 266.6 L648.8 271.0 L650.6 276.0 L653.8 279.8 L655.0 283.5 L655.6 287.9 L659.4 291.6 L661.2 294.8"/>
<path d="M648.8 267.2 L653.8 266.6 L658.1 267.2 L660.6 269.1 L659.4 271.0 L658.1 272.2"/>
<path d="M648.8 271.6 L652.5 271.9 L658.1 272.2 L663.8 272.9 L664.1 274.8 L662.5 277.2 L660.6 279.1 L657.5 276.6 L653.8 276.0 L650.6 276.0"/>
<path d="M660.6 269.1 L663.1 267.9 L665.0 268.5 L666.2 271.0 L665.0 272.9 L663.8 272.9"/>
<path d="M665.0 272.9 L667.5 271.0 L670.6 269.8 L673.1 268.5"/>
<path d="M665.0 272.9 L668.8 276.0 L673.1 279.8 L675.6 282.2 L676.2 283.5"/>
<path d="M667.5 277.2 L665.6 280.4 L664.1 283.5 L667.5 285.4 L670.0 282.2 L673.1 279.8"/>
<path d="M664.1 283.5 L660.6 282.2 L656.9 284.1 L655.0 283.5"/>
<path d="M667.5 285.4 L665.0 288.5 L662.5 291.0 L661.2 294.8"/>
<path d="M670.0 282.2 L673.8 285.4 L675.6 287.9 L673.8 291.0 L670.0 288.5 L667.5 285.4"/>
<path d="M670.0 288.5 L668.1 291.0 L666.9 292.2"/>
<path d="M630.0 274.8 L635.0 276.0 L641.2 277.2 L642.5 279.8 L641.9 283.5 L641.2 287.9 L639.4 291.0"/>
<path d="M641.2 277.2 L648.8 276.0 L650.6 276.0"/>
<path d="M630.0 278.5 L636.2 279.1 L642.5 279.8"/>
<path d="M642.5 279.8 L648.8 283.5 L655.0 283.5"/>
<path d="M633.1 279.8 L632.5 286.0 L630.0 287.9"/>
<path d="M630.0 287.9 L636.2 289.1 L639.4 291.0 L644.4 294.1 L645.6 296.0"/>
<path d="M641.9 283.5 L646.9 285.4 L647.5 289.8 L646.9 294.1"/>
<path d="M651.9 250.1 L656.2 251.0 L657.5 247.9 L660.6 248.5"/>
<path d="M656.2 251.0 L655.0 254.8 L653.8 257.2 L655.0 259.1 L657.5 259.8 L659.4 263.5 L661.2 264.1 L661.9 259.8 L661.2 254.8 L662.5 253.5 L664.1 257.2"/>
<path d="M652.5 252.9 L655.0 254.8"/>
<path d="M645.9 262.9 L650.6 261.0 L653.8 257.2"/>
<path d="M646.9 262.9 L655.0 266.0 L658.1 267.2"/>
<path d="M659.4 263.5 L658.1 267.2"/>
<path d="M661.2 264.1 L665.0 261.0"/>
<path d="M675.0 271.0 L676.2 273.5 L675.0 278.5 L676.2 283.5 L678.1 286.0"/>
<path d="M681.9 278.5 L683.1 276.0 L685.6 272.2 L688.8 269.1"/>
<path d="M678.1 286.0 L680.0 282.2 L681.9 278.5"/>
<path d="M696.2 275.4 L696.9 282.2 L705.0 291.0"/>
<path d="M681.9 282.9 L692.5 282.2 L696.9 282.2"/>
<path d="M686.2 283.5 L685.0 287.9 L684.4 292.2"/>
<path d="M680.0 284.8 L677.5 289.1 L676.9 296.0"/>
<path d="M580.0 290.0 L583.3 295.3 L588.3 297.4 L596.7 299.9 L605.0 303.2 L608.3 304.5 L613.3 306.2 L620.0 307.2"/>
<path d="M588.3 291.2 L585.8 295.3"/>
<path d="M618.3 290.0 L620.0 290.2"/>
<path d="M608.8 295.8 L610.0 298.7 L608.3 304.5 L605.0 311.6"/>
<path d="M610.0 298.7 L616.7 297.0 L620.0 296.3"/>
<path d="M580.0 215.0 L590.0 218.8 L599.4 222.5 L603.8 223.8 L610.0 225.6 L616.2 230.0 L621.2 233.1 L624.4 234.4 L630.0 234.7 L634.7 236.0"/>
<path d="M613.8 210.0 L614.4 212.5 L608.1 213.8 L604.4 215.6 L603.1 219.4 L603.8 223.8"/>
<path d="M632.5 216.9 L630.0 220.6 L626.2 225.0 L625.0 228.1 L624.4 234.4 L623.1 237.5 L620.0 238.8 L615.6 242.5 L612.5 245.6 L610.6 250.6 L608.8 256.2 L607.5 260.0"/>
<path d="M599.4 222.5 L595.6 231.9 L588.1 241.9 L580.0 238.8"/>
<path d="M595.6 231.9 L600.6 235.6 L605.0 234.4 L611.2 234.1 L615.0 236.2 L620.6 237.5 L623.1 237.5"/>
<path d="M615.0 236.2 L613.8 239.4 L608.8 241.2 L608.1 245.0 L605.6 250.0 L610.6 250.6 L615.0 251.2 L620.0 254.4 L624.4 256.9 L630.0 257.2"/>
<path d="M629.4 220.9 L635.0 223.1 L640.0 225.6 L644.4 228.8 L651.9 230.0 L658.8 227.5 L664.0 226.2"/>
<path d="M644.4 228.8 L642.5 233.8 L641.9 236.0"/>
<path d="M657.5 208.1 L658.1 215.6 L659.4 221.2 L662.5 225.0 L664.0 226.9"/>
<path d="M658.1 218.8 L664.0 216.9"/>
<path d="M664.0 232.5 L658.8 234.4 L658.1 236.0"/>
<path d="M587.5 242.5 L592.5 247.5 L597.5 249.4 L598.8 251.9 L603.8 255.0 L607.5 260.0"/>
<path d="M580.0 206.2 L585.0 205.0 L589.4 202.5 L587.5 200.0"/>
<path d="M586.2 245.0 L591.2 247.5 L593.8 250.6 L595.6 254.4 L596.2 260.0"/>
<path d="M580.0 253.1 L583.8 252.5 L586.2 245.0"/>
<path d="M582.5 255.0 L589.4 255.0 L595.6 258.1"/>
</g>
<g id="isles" stroke="#6e6e6e" stroke-width="1" stroke-linejoin="round">
<path fill="#bebebe" d="M899.1 96.5 L900.5 91.4 L905.6 86.3 L912.9 79.0 L919.5 75.3 L929.0 72.4 L940.6 69.9 L947.9 70.9 L952.3 76.8 L956.7 79.0 L962.5 80.1 L964.0 82.6 L971.3 84.1 L980.0 87.0 L988.8 92.1 L996.0 97.2 L1001.1 101.6 L1004.1 108.1 L1006.3 112.5 L1005.5 116.1 L1009.9 118.3 L1011.8 125.6 L1009.9 134.4 L1004.8 143.1 L999.0 153.3 L994.6 165.0 L991.7 176.7 L991.7 177.7 L992.4 185.0 L996.0 194.5 L1000.4 202.5 L1005.1 209.8 L1004.8 212.7 L1001.9 214.2 L999.0 212.7 L991.7 206.1 L977.1 193.8 L959.6 179.2 L942.1 164.6 L945.0 167.9 L933.3 157.0 L921.7 146.0 L912.9 135.8 L908.3 125.6 L909.3 123.9 L919.5 124.2 L924.6 123.4 L927.5 119.8 L926.8 115.4 L929.3 111.8 L928.2 110.3 L923.9 110.3 L918.8 114.7 L908.5 114.3 L904.2 111.8 L901.3 103.8Z"/>
<path fill="#bebebe" d="M783.0 94.5 L785.6 91.9 L793.4 87.7 L801.2 90.3 L809.6 93.4 L814.8 96.0 L816.9 98.6 L821.0 100.7 L824.2 100.2 L825.7 101.8 L832.5 101.2 L840.8 99.7 L846.0 99.2 L852.3 101.2 L858.5 101.8 L866.9 100.2 L874.2 99.7 L879.4 100.2 L883.0 102.3 L886.7 106.5 L889.3 113.8 L891.4 121.0 L890.8 122.6 L884.6 121.9 L878.3 121.2 L871.0 121.6 L870.0 123.3 L869.0 121.6 L861.7 121.0 L855.4 121.9 L849.2 123.1 L842.9 124.7 L836.7 125.7 L830.4 127.3 L827.8 126.8 L825.2 124.2 L822.6 120.0 L819.0 119.0 L816.9 114.8 L813.8 112.2 L808.5 109.6 L801.2 105.9 L795.0 102.3 L788.8 100.2 L785.6 97.6Z"/>
<path fill="#bebebe" d="M400.2 304.2 L407.5 299.1 L409.7 302.0 L422.1 294.0 L436.7 285.2 L448.3 279.4 L460.7 278.6 L457.1 283.8 L451.3 291.0 L444.0 299.8 L448.3 304.2 L454.2 298.3 L457.8 297.6 L458.5 294.0 L460.0 291.0 L465.8 283.8 L471.7 278.6 L480.4 277.2 L489.9 278.6 L491.4 280.1 L495.0 278.6 L500.1 282.3 L502.3 286.7 L505.2 291.8 L511.0 295.4 L516.0 296.9 L521.3 303.7 L519.8 306.4 L516.0 308.5 L511.0 315.8 L497.9 323.9 L480.4 311.5 L479.0 309.3 L477.5 312.2 L473.1 312.9 L485.5 323.1 L457.1 336.3 L451.3 318.8 L444.0 311.2 L438.1 317.3 L446.1 326.0 L449.8 339.2 L452.4 347.9 L450.5 353.0 L446.9 355.2 L441.0 358.9 L441.8 361.0 L427.2 374.2 L425.0 372.7 L422.8 366.1 L425.0 371.3 L430.8 366.9 L427.9 358.1 L422.1 356.7 L413.3 342.1 L406.0 321.7Z"/>
<path fill="#bebebe" d="M640.8 322.4 L646.7 318.0 L655.4 316.6 L661.3 320.9 L665.6 324.6 L656.9 329.0 L649.6 327.5 L642.3 324.6Z"/>
<path fill="#bebebe" d="M521.2 357.5 L527.5 353.8 L537.5 355.0 L545.0 360.0 L548.8 363.8 L555.0 365.0 L563.8 366.2 L562.5 370.0 L550.0 370.0 L540.0 366.2 L530.0 363.8 L523.8 361.2Z"/>
<path fill="#bebebe" d="M548.8 352.5 L552.5 349.5 L560.0 352.5 L567.5 358.8 L572.5 365.0 L576.2 372.5 L570.0 370.0 L563.8 366.2 L555.0 361.2 L550.0 357.5Z"/>
<path fill="#bebebe" d="M531.2 367.5 L537.5 367.0 L541.2 371.2 L535.0 373.8 L532.0 371.2Z"/>
<path fill="#bebebe" d="M475.5 400.0 L482.5 392.5 L492.5 388.0 L498.8 387.5 L500.0 390.0 L505.0 390.0 L507.5 396.2 L512.5 401.2 L505.0 400.0 L495.0 402.0 L482.5 402.0Z"/>
<path fill="#bebebe" d="M550.0 412.5 L553.8 405.0 L558.8 396.2 L567.5 392.5 L577.5 391.2 L580.0 397.5 L580.0 405.0 L575.0 411.2 L567.5 417.5 L561.2 422.0 L555.0 420.0Z"/>
<path fill="#bebebe" d="M548.0 381.2 L550.0 390.0 L553.8 395.0 L551.2 402.5 L546.2 400.0 L547.5 392.5Z"/>
<path fill="#bebebe" d="M542.5 409.5 L548.0 409.5 L548.0 410.8 L542.5 410.8Z"/>
<path fill="#bebebe" d="M489.5 423.8 L497.5 422.5 L500.0 417.5 L506.2 417.0 L510.0 421.2 L508.8 427.5 L500.0 430.0 L492.5 433.0Z"/>
<path fill="#bebebe" d="M505.0 442.5 L510.0 439.5 L517.5 440.0 L523.8 442.5 L522.5 447.5 L520.0 452.5 L513.8 452.5 L510.0 447.5Z"/>
<path fill="#bebebe" d="M515.0 421.2 L518.0 418.0 L519.2 419.0 L516.2 422.5Z"/>
<path fill="#bebebe" d="M521.2 461.2 L523.0 460.5 L523.8 463.8 L522.0 464.2Z"/>
<path fill="#bebebe" d="M593.8 391.2 L596.2 390.0 L602.5 397.5 L608.8 404.5 L605.0 405.0 L597.5 400.0 L594.5 395.0Z"/>
<path fill="#bebebe" d="M668.8 350.0 L676.2 343.8 L681.2 342.5 L683.8 347.5 L677.5 351.2 L671.2 353.0Z"/>
<path fill="#bebebe" d="M655.5 358.8 L658.8 357.0 L662.0 362.5 L661.2 367.0 L657.5 365.0Z"/>
<path fill="#bebebe" d="M671.2 362.5 L680.0 360.0 L687.5 360.5 L686.2 365.0 L680.0 370.0 L675.0 367.5Z"/>
<path fill="#bebebe" d="M667.5 375.0 L673.8 372.5 L682.5 380.0 L686.2 381.2 L680.0 386.2 L675.0 385.0Z"/>
<path fill="#bebebe" d="M686.2 372.5 L691.2 370.0 L693.8 375.0 L690.0 377.0Z"/>
<path fill="#bebebe" d="M651.2 383.8 L656.2 385.0 L655.5 388.0 L652.0 387.0Z"/>
<path fill="#bebebe" d="M600.0 395.5 L605.0 400.0 L608.0 405.0 L602.5 403.8Z"/>
<path fill="#bebebe" d="M808.0 115.3 L810.1 115.3 L814.8 117.9 L821.0 122.1 L822.6 126.2 L822.1 129.2 L819.0 126.8 L814.8 122.1 L810.6 118.4Z"/>
<path fill="#bebebe" d="M1005.6 234.6 L1005.2 235.4 L1004.4 235.8 L1003.5 235.4 L1003.2 234.6 L1003.5 233.7 L1004.4 233.4 L1005.2 233.7Z"/>
<path fill="#bebebe" d="M987.8 278.3 L987.4 279.2 L986.6 279.5 L985.7 279.2 L985.4 278.3 L985.7 277.5 L986.6 277.1 L987.4 277.5Z"/>
<path fill="#bebebe" d="M977.9 77.2 L977.7 77.8 L977.1 78.0 L976.5 77.8 L976.3 77.2 L976.5 76.6 L977.1 76.4 L977.7 76.6Z"/>
<path fill="#bebebe" d="M587.6 384.2 L587.4 384.9 L586.8 385.1 L586.1 384.9 L585.9 384.2 L586.1 383.6 L586.8 383.4 L587.4 383.6Z"/>
<path fill="#bebebe" d="M655.2 385.0 L654.8 386.1 L653.8 386.5 L652.7 386.1 L652.2 385.0 L652.7 383.9 L653.8 383.5 L654.8 383.9Z"/>
<path fill="#e4eef8" d="M615.3 323.1 L620.4 321.7 L626.3 323.1 L632.1 323.9 L638.6 325.3 L642.3 327.5 L649.6 329.7 L656.9 331.9 L664.2 332.6 L670.0 331.1 L673.6 333.3 L672.2 337.7 L667.1 343.5 L661.3 349.4 L656.9 352.3 L651.0 353.0 L646.7 348.6 L640.8 343.5 L635.0 338.4 L629.2 334.1 L623.3 329.7 L619.0 326.8Z"/>
</g>
</defs>
<g transform="translate(0,0)">
<use href="#isl" fill="#e4eef8" stroke="none"/>
<g clip-path="url(#cl)">
<use href="#greys" stroke="#6e6e6e" stroke-width="1.8" stroke-linejoin="round"/>
<use href="#greys"/>
<use href="#z0" fill="#e4eef8" stroke="#6e6e6e" stroke-width="1" stroke-linejoin="round"/>
<use href="#z1" fill="#7db7d9" stroke="#6e6e6e" stroke-width="1" stroke-linejoin="round"/>
<use href="#z2" fill="#7db7d9" stroke="#6e6e6e" stroke-width="1" stroke-linejoin="round"/>
<use href="#z3" fill="#bfd7ec" stroke="#6e6e6e" stroke-width="1" stroke-linejoin="round"/>
<use href="#z4" fill="#7db7d9" stroke="#6e6e6e" stroke-width="1" stroke-linejoin="round"/>
<use href="#z5" fill="#e4eef8" stroke="#6e6e6e" stroke-width="1" stroke-linejoin="round"/>
<use href="#z6" fill="#bfd7ec" stroke="#6e6e6e" stroke-width="1" stroke-linejoin="round"/>
<use href="#z7" fill="#bfd7ec" stroke="#6e6e6e" stroke-width="1" stroke-linejoin="round"/>
<use href="#z8" fill="#bfd7ec" stroke="#6e6e6e" stroke-width="1" stroke-linejoin="round"/>
<use href="#z9" fill="#bfd7ec" stroke="#6e6e6e" stroke-width="1" stroke-linejoin="round"/>
<use href="#z10" fill="#e4eef8" stroke="#6e6e6e" stroke-width="1" stroke-linejoin="round"/>
<use href="#z11" fill="#e4eef8" stroke="#6e6e6e" stroke-width="1" stroke-linejoin="round"/>
<use href="#z12" fill="#1764ab" stroke="#6e6e6e" stroke-width="1" stroke-linejoin="round"/>
<use href="#z13" fill="#bfd7ec" stroke="#6e6e6e" stroke-width="1" stroke-linejoin="round"/>
<use href="#z14" fill="#bfd7ec" stroke="#6e6e6e" stroke-width="1" stroke-linejoin="round"/>
<use href="#z15" fill="#bfd7ec" stroke="#6e6e6e" stroke-width="1" stroke-linejoin="round"/>
<use href="#z16" fill="#bfd7ec" stroke="#6e6e6e" stroke-width="1" stroke-linejoin="round"/>
<use href="#z17" fill="#bfd7ec" stroke="#6e6e6e" stroke-width="1" stroke-linejoin="round"/>
<use href="#z18" fill="#bfd7ec" stroke="#6e6e6e" stroke-width="1" stroke-linejoin="round"/>
<use href="#z19" fill="#bfd7ec" stroke="#6e6e6e" stroke-width="1" stroke-linejoin="round"/>
<use href="#z20" fill="#bfd7ec" stroke="#6e6e6e" stroke-width="1" stroke-linejoin="round"/>
<use href="#z21" fill="#bfd7ec" stroke="#6e6e6e" stroke-width="1" stroke-linejoin="round"/>
<use href="#z22" fill="#bfd7ec" stroke="#6e6e6e" stroke-width="1" stroke-linejoin="round"/>
<use href="#z23" fill="#bfd7ec" stroke="#6e6e6e" stroke-width="1" stroke-linejoin="round"/>
<use href="#z24" fill="#bfd7ec" stroke="#6e6e6e" stroke-width="1" stroke-linejoin="round"/>
<use href="#z25" fill="#bfd7ec" stroke="#6e6e6e" stroke-width="1" stroke-linejoin="round"/>
<use href="#z26" fill="#bfd7ec" stroke="#6e6e6e" stroke-width="1" stroke-linejoin="round"/>
<use href="#z27" fill="#bfd7ec" stroke="#6e6e6e" stroke-width="1" stroke-linejoin="round"/>
<use href="#z28" fill="#bfd7ec" stroke="#6e6e6e" stroke-width="1" stroke-linejoin="round"/>
<use href="#z29" fill="#bfd7ec" stroke="#6e6e6e" stroke-width="1" stroke-linejoin="round"/>
<use href="#z30" fill="#7db7d9" stroke="#6e6e6e" stroke-width="1" stroke-linejoin="round"/>
<use href="#z31" fill="#bfd7ec" stroke="#6e6e6e" stroke-width="1" stroke-linejoin="round"/>
<use href="#z32" fill="#7db7d9" stroke="#6e6e6e" stroke-width="1" stroke-linejoin="round"/>
<use href="#z33" fill="#7db7d9" stroke="#6e6e6e" stroke-width="1" stroke-linejoin="round"/>
<use href="#z34" fill="#7db7d9" stroke="#6e6e6e" stroke-width="1" stroke-linejoin="round"/>
<use href="#z35" fill="#7db7d9" stroke="#6e6e6e" stroke-width="1" stroke-linejoin="round"/>
<use href="#z36" fill="#bfd7ec" stroke="#6e6e6e" stroke-width="1" stroke-linejoin="round"/>
<use href="#z37" fill="#e4eef8" stroke="#6e6e6e" stroke-width="1" stroke-linejoin="round"/>
<use href="#z38" fill="#e4eef8" stroke="#6e6e6e" stroke-width="1" stroke-linejoin="round"/>
<use href="#z39" fill="#3f8ec4" stroke="#6e6e6e" stroke-width="1" stroke-linejoin="round"/>
<use href="#z40" fill="#1764ab" stroke="#6e6e6e" stroke-width="1" stroke-linejoin="round"/>
<use href="#z41" fill="#bfd7ec" stroke="#6e6e6e" stroke-width="1" stroke-linejoin="round"/>
<use href="#z42" fill="#bfd7ec" stroke="#6e6e6e" stroke-width="1" stroke-linejoin="round"/>
<use href="#z43" fill="#7db7d9" stroke="#6e6e6e" stroke-width="1" stroke-linejoin="round"/>
<use href="#z44" fill="#bfd7ec" stroke="#6e6e6e" stroke-width="1" stroke-linejoin="round"/>
<use href="#z45" fill="#bfd7ec" stroke="#6e6e6e" stroke-width="1" stroke-linejoin="round"/>
<use href="#z46" fill="#bfd7ec" stroke="#6e6e6e" stroke-width="1" stroke-linejoin="round"/>
<use href="#z47" fill="#bfd7ec" stroke="#6e6e6e" stroke-width="1" stroke-linejoin="round"/>
<use href="#z48" fill="#bfd7ec" stroke="#6e6e6e" stroke-width="1" stroke-linejoin="round"/>
<use href="#z49" fill="#e4eef8" stroke="#6e6e6e" stroke-width="1" stroke-linejoin="round"/>
<use href="#z50" fill="#7db7d9" stroke="#6e6e6e" stroke-width="1" stroke-linejoin="round"/>
<use href="#z51" fill="#bfd7ec" stroke="#6e6e6e" stroke-width="1" stroke-linejoin="round"/>
<use href="#z52" fill="#bfd7ec" stroke="#6e6e6e" stroke-width="1" stroke-linejoin="round"/>
<use href="#z53" fill="#bfd7ec" stroke="#6e6e6e" stroke-width="1" stroke-linejoin="round"/>
<use href="#z54" fill="#bfd7ec" stroke="#6e6e6e" stroke-width="1" stroke-linejoin="round"/>
<use href="#z55" fill="#bfd7ec" stroke="#6e6e6e" stroke-width="1" stroke-linejoin="round"/>
<use href="#z56" fill="#bfd7ec" stroke="#6e6e6e" stroke-width="1" stroke-linejoin="round"/>
<use href="#z57" fill="#bfd7ec" stroke="#6e6e6e" stroke-width="1" stroke-linejoin="round"/>
<use href="#z58" fill="#7db7d9" stroke="#6e6e6e" stroke-width="1" stroke-linejoin="round"/>
<use href="#z59" fill="#bfd7ec" stroke="#6e6e6e" stroke-width="1" stroke-linejoin="round"/>
<use href="#z60" fill="#e4eef8" stroke="#6e6e6e" stroke-width="1" stroke-linejoin="round"/>
<use href="#z71" fill="#e4eef8" stroke="#6e6e6e" stroke-width="1" stroke-linejoin="round"/>
<use href="#z72" fill="#e4eef8" stroke="#6e6e6e" stroke-width="1" stroke-linejoin="round"/>
<use href="#z73" fill="#e4eef8" stroke="#6e6e6e" stroke-width="1" stroke-linejoin="round"/>
<use href="#z74" fill="#e4eef8" stroke="#6e6e6e" stroke-width="1" stroke-linejoin="round"/>
<use href="#z75" fill="#e4eef8" stroke="#6e6e6e" stroke-width="1" stroke-linejoin="round"/>
<use href="#z76" fill="#e4eef8" stroke="#6e6e6e" stroke-width="1" stroke-linejoin="round"/>
<use href="#lines"/>
</g>
<use href="#isl" fill="none" stroke="#6e6e6e" stroke-width="1" stroke-linejoin="round"/>
<use href="#isles"/>
<text x="841.3" y="318.7" font-size="21.6px">YOUNG</text>
<rect x="843.3" y="332.3" width="20.2" height="20.0" fill="#e4eef8" stroke="#8a8a8a" stroke-width="1"/>
<text x="868.2" y="348.4" font-size="16.4px">0 to 7,390</text>
<rect x="843.3" y="352.3" width="20.2" height="20.0" fill="#bfd7ec" stroke="#8a8a8a" stroke-width="1"/>
<text x="868.2" y="368.4" font-size="16.4px">7,390 to 14,780</text>
<rect x="843.3" y="372.3" width="20.2" height="20.0" fill="#7db7d9" stroke="#8a8a8a" stroke-width="1"/>
<text x="868.2" y="388.4" font-size="16.4px">14,780 to 22,170</text>
<rect x="843.3" y="392.3" width="20.2" height="20.0" fill="#3f8ec4" stroke="#8a8a8a" stroke-width="1"/>
<text x="868.2" y="408.4" font-size="16.4px">22,170 to 29,560</text>
<rect x="843.3" y="412.3" width="20.2" height="20.0" fill="#1764ab" stroke="#8a8a8a" stroke-width="1"/>
<text x="868.2" y="428.4" font-size="16.4px">29,560 to 36,950</text>
<rect x="843.3" y="432.3" width="20.2" height="20.0" fill="#bebebe" stroke="#8a8a8a" stroke-width="1"/>
<text x="868.2" y="448.4" font-size="16.4px">Missing</text>
<rect x="319.5" y="19.5" width="705" height="453" fill="none" stroke="#333" stroke-width="1"/>
</g>
<g transform="translate(0,468)">
<use href="#isl" fill="#e4eef8" stroke="none"/>
<g clip-path="url(#cl)">
<use href="#greys" stroke="#6e6e6e" stroke-width="1.8" stroke-linejoin="round"/>
<use href="#greys"/>
<use href="#z0" fill="#e4eef8" stroke="#6e6e6e" stroke-width="1" stroke-linejoin="round"/>
<use href="#z1" fill="#7db7d9" stroke="#6e6e6e" stroke-width="1" stroke-linejoin="round"/>
<use href="#z2" fill="#bfd7ec" stroke="#6e6e6e" stroke-width="1" stroke-linejoin="round"/>
<use href="#z3" fill="#e4eef8" stroke="#6e6e6e" stroke-width="1" stroke-linejoin="round"/>
<use href="#z4" fill="#7db7d9" stroke="#6e6e6e" stroke-width="1" stroke-linejoin="round"/>
<use href="#z5" fill="#e4eef8" stroke="#6e6e6e" stroke-width="1" stroke-linejoin="round"/>
<use href="#z6" fill="#bfd7ec" stroke="#6e6e6e" stroke-width="1" stroke-linejoin="round"/>
<use href="#z7" fill="#bfd7ec" stroke="#6e6e6e" stroke-width="1" stroke-linejoin="round"/>
<use href="#z8" fill="#e4eef8" stroke="#6e6e6e" stroke-width="1" stroke-linejoin="round"/>
<use href="#z9" fill="#e4eef8" stroke="#6e6e6e" stroke-width="1" stroke-linejoin="round"/>
<use href="#z10" fill="#e4eef8" stroke="#6e6e6e" stroke-width="1" stroke-linejoin="round"/>
<use href="#z11" fill="#e4eef8" stroke="#6e6e6e" stroke-width="1" stroke-linejoin="round"/>
<use href="#z12" fill="#7db7d9" stroke="#6e6e6e" stroke-width="1" stroke-linejoin="round"/>
<use href="#z13" fill="#e4eef8" stroke="#6e6e6e" stroke-width="1" stroke-linejoin="round"/>
<use href="#z14" fill="#bfd7ec" stroke="#6e6e6e" stroke-width="1" stroke-linejoin="round"/>
<use href="#z15" fill="#e4eef8" stroke="#6e6e6e" stroke-width="1" stroke-linejoin="round"/>
<use href="#z16" fill="#e4eef8" stroke="#6e6e6e" stroke-width="1" stroke-linejoin="round"/>
<use href="#z17" fill="#e4eef8" stroke="#6e6e6e" stroke-width="1" stroke-linejoin="round"/>
<use href="#z18" fill="#e4eef8" stroke="#6e6e6e" stroke-width="1" stroke-linejoin="round"/>
<use href="#z19" fill="#e4eef8" stroke="#6e6e6e" stroke-width="1" stroke-linejoin="round"/>
<use href="#z20" fill="#e4eef8" stroke="#6e6e6e" stroke-width="1" stroke-linejoin="round"/>
<use href="#z21" fill="#e4eef8" stroke="#6e6e6e" stroke-width="1" stroke-linejoin="round"/>
<use href="#z22" fill="#bfd7ec" stroke="#6e6e6e" stroke-width="1" stroke-linejoin="round"/>
<use href="#z23" fill="#bfd7ec" stroke="#6e6e6e" stroke-width="1" stroke-linejoin="round"/>
<use href="#z24" fill="#bfd7ec" stroke="#6e6e6e" stroke-width="1" stroke-linejoin="round"/>
<use href="#z25" fill="#7db7d9" stroke="#6e6e6e" stroke-width="1" stroke-linejoin="round"/>
<use href="#z26" fill="#bfd7ec" stroke="#6e6e6e" stroke-width="1" stroke-linejoin="round"/>
<use href="#z27" fill="#7db7d9" stroke="#6e6e6e" stroke-width="1" stroke-linejoin="round"/>
<use href="#z28" fill="#bfd7ec" stroke="#6e6e6e" stroke-width="1" stroke-linejoin="round"/>
<use href="#z29" fill="#bfd7ec" stroke="#6e6e6e" stroke-width="1" stroke-linejoin="round"/>
<use href="#z30" fill="#bfd7ec" stroke="#6e6e6e" stroke-width="1" stroke-linejoin="round"/>
<use href="#z31" fill="#bfd7ec" stroke="#6e6e6e" stroke-width="1" stroke-linejoin="round"/>
<use href="#z32" fill="#e4eef8" stroke="#6e6e6e" stroke-width="1" stroke-linejoin="round"/>
<use href="#z33" fill="#bfd7ec" stroke="#6e6e6e" stroke-width="1" stroke-linejoin="round"/>
<use href="#z34" fill="#bfd7ec" stroke="#6e6e6e" stroke-width="1" stroke-linejoin="round"/>
<use href="#z35" fill="#bfd7ec" stroke="#6e6e6e" stroke-width="1" stroke-linejoin="round"/>
<use href="#z36" fill="#e4eef8" stroke="#6e6e6e" stroke-width="1" stroke-linejoin="round"/>
<use href="#z37" fill="#e4eef8" stroke="#6e6e6e" stroke-width="1" stroke-linejoin="round"/>
<use href="#z38" fill="#e4eef8" stroke="#6e6e6e" stroke-width="1" stroke-linejoin="round"/>
<use href="#z39" fill="#7db7d9" stroke="#6e6e6e" stroke-width="1" stroke-linejoin="round"/>
<use href="#z40" fill="#1764ab" stroke="#6e6e6e" stroke-width="1" stroke-linejoin="round"/>
<use href="#z41" fill="#bfd7ec" stroke="#6e6e6e" stroke-width="1" stroke-linejoin="round"/>
<use href="#z42" fill="#e4eef8" stroke="#6e6e6e" stroke-width="1" stroke-linejoin="round"/>
<use href="#z43" fill="#1764ab" stroke="#6e6e6e" stroke-width="1" stroke-linejoin="round"/>
<use href="#z44" fill="#7db7d9" stroke="#6e6e6e" stroke-width="1" stroke-linejoin="round"/>
<use href="#z45" fill="#bfd7ec" stroke="#6e6e6e" stroke-width="1" stroke-linejoin="round"/>
<use href="#z46" fill="#bfd7ec" stroke="#6e6e6e" stroke-width="1" stroke-linejoin="round"/>
<use href="#z47" fill="#e4eef8" stroke="#6e6e6e" stroke-width="1" stroke-linejoin="round"/>
<use href="#z48" fill="#e4eef8" stroke="#6e6e6e" stroke-width="1" stroke-linejoin="round"/>
<use href="#z49" fill="#e4eef8" stroke="#6e6e6e" stroke-width="1" stroke-linejoin="round"/>
<use href="#z50" fill="#bfd7ec" stroke="#6e6e6e" stroke-width="1" stroke-linejoin="round"/>
<use href="#z51" fill="#bfd7ec" stroke="#6e6e6e" stroke-width="1" stroke-linejoin="round"/>
<use href="#z52" fill="#7db7d9" stroke="#6e6e6e" stroke-width="1" stroke-linejoin="round"/>
<use href="#z53" fill="#bfd7ec" stroke="#6e6e6e" stroke-width="1" stroke-linejoin="round"/>
<use href="#z54" fill="#bfd7ec" stroke="#6e6e6e" stroke-width="1" stroke-linejoin="round"/>
<use href="#z55" fill="#bfd7ec" stroke="#6e6e6e" stroke-width="1" stroke-linejoin="round"/>
<use href="#z56" fill="#bfd7ec" stroke="#6e6e6e" stroke-width="1" stroke-linejoin="round"/>
<use href="#z57" fill="#bfd7ec" stroke="#6e6e6e" stroke-width="1" stroke-linejoin="round"/>
<use href="#z58" fill="#bfd7ec" stroke="#6e6e6e" stroke-width="1" stroke-linejoin="round"/>
<use href="#z59" fill="#bfd7ec" stroke="#6e6e6e" stroke-width="1" stroke-linejoin="round"/>
<use href="#z60" fill="#e4eef8" stroke="#6e6e6e" stroke-width="1" stroke-linejoin="round"/>
<use href="#z61" fill="#bfd7ec"/>
<use href="#z62" fill="#bfd7ec"/>
<use href="#z63" fill="#bfd7ec"/>
<use href="#z64" fill="#bfd7ec"/>
<use href="#z65" fill="#bfd7ec"/>
<use href="#z66" fill="#bfd7ec"/>
<use href="#z67" fill="#bfd7ec"/>
<use href="#z68" fill="#bfd7ec"/>
<use href="#z69" fill="#bfd7ec"/>
<use href="#z70" fill="#bfd7ec"/>
<use href="#z71" fill="#bfd7ec" stroke="#6e6e6e" stroke-width="1" stroke-linejoin="round"/>
<use href="#z72" fill="#bfd7ec" stroke="#6e6e6e" stroke-width="1" stroke-linejoin="round"/>
<use href="#z73" fill="#bfd7ec" stroke="#6e6e6e" stroke-width="1" stroke-linejoin="round"/>
<use href="#z74" fill="#bfd7ec" stroke="#6e6e6e" stroke-width="1" stroke-linejoin="round"/>
<use href="#z75" fill="#bfd7ec" stroke="#6e6e6e" stroke-width="1" stroke-linejoin="round"/>
<use href="#z76" fill="#bfd7ec" stroke="#6e6e6e" stroke-width="1" stroke-linejoin="round"/>
<use href="#lines"/>
</g>
<use href="#isl" fill="none" stroke="#6e6e6e" stroke-width="1" stroke-linejoin="round"/>
<use href="#isles"/>
<text x="841.3" y="318.7" font-size="21.6px">AGED</text>
<rect x="843.3" y="332.3" width="20.2" height="20.0" fill="#e4eef8" stroke="#8a8a8a" stroke-width="1"/>
<text x="868.2" y="348.4" font-size="16.4px">0 to 4,048</text>
<rect x="843.3" y="352.3" width="20.2" height="20.0" fill="#bfd7ec" stroke="#8a8a8a" stroke-width="1"/>
<text x="868.2" y="368.4" font-size="16.4px">4,048 to 8,096</text>
<rect x="843.3" y="372.3" width="20.2" height="20.0" fill="#7db7d9" stroke="#8a8a8a" stroke-width="1"/>
<text x="868.2" y="388.4" font-size="16.4px">8,096 to 12,144</text>
<rect x="843.3" y="392.3" width="20.2" height="20.0" fill="#3f8ec4" stroke="#8a8a8a" stroke-width="1"/>
<text x="868.2" y="408.4" font-size="16.4px">12,144 to 16,192</text>
<rect x="843.3" y="412.3" width="20.2" height="20.0" fill="#1764ab" stroke="#8a8a8a" stroke-width="1"/>
<text x="868.2" y="428.4" font-size="16.4px">16,192 to 20,240</text>
<rect x="843.3" y="432.3" width="20.2" height="20.0" fill="#bebebe" stroke="#8a8a8a" stroke-width="1"/>
<text x="868.2" y="448.4" font-size="16.4px">Missing</text>
<rect x="319.5" y="19.5" width="705" height="453" fill="none" stroke="#333" stroke-width="1"/>
</g>
</svg></body></html>
